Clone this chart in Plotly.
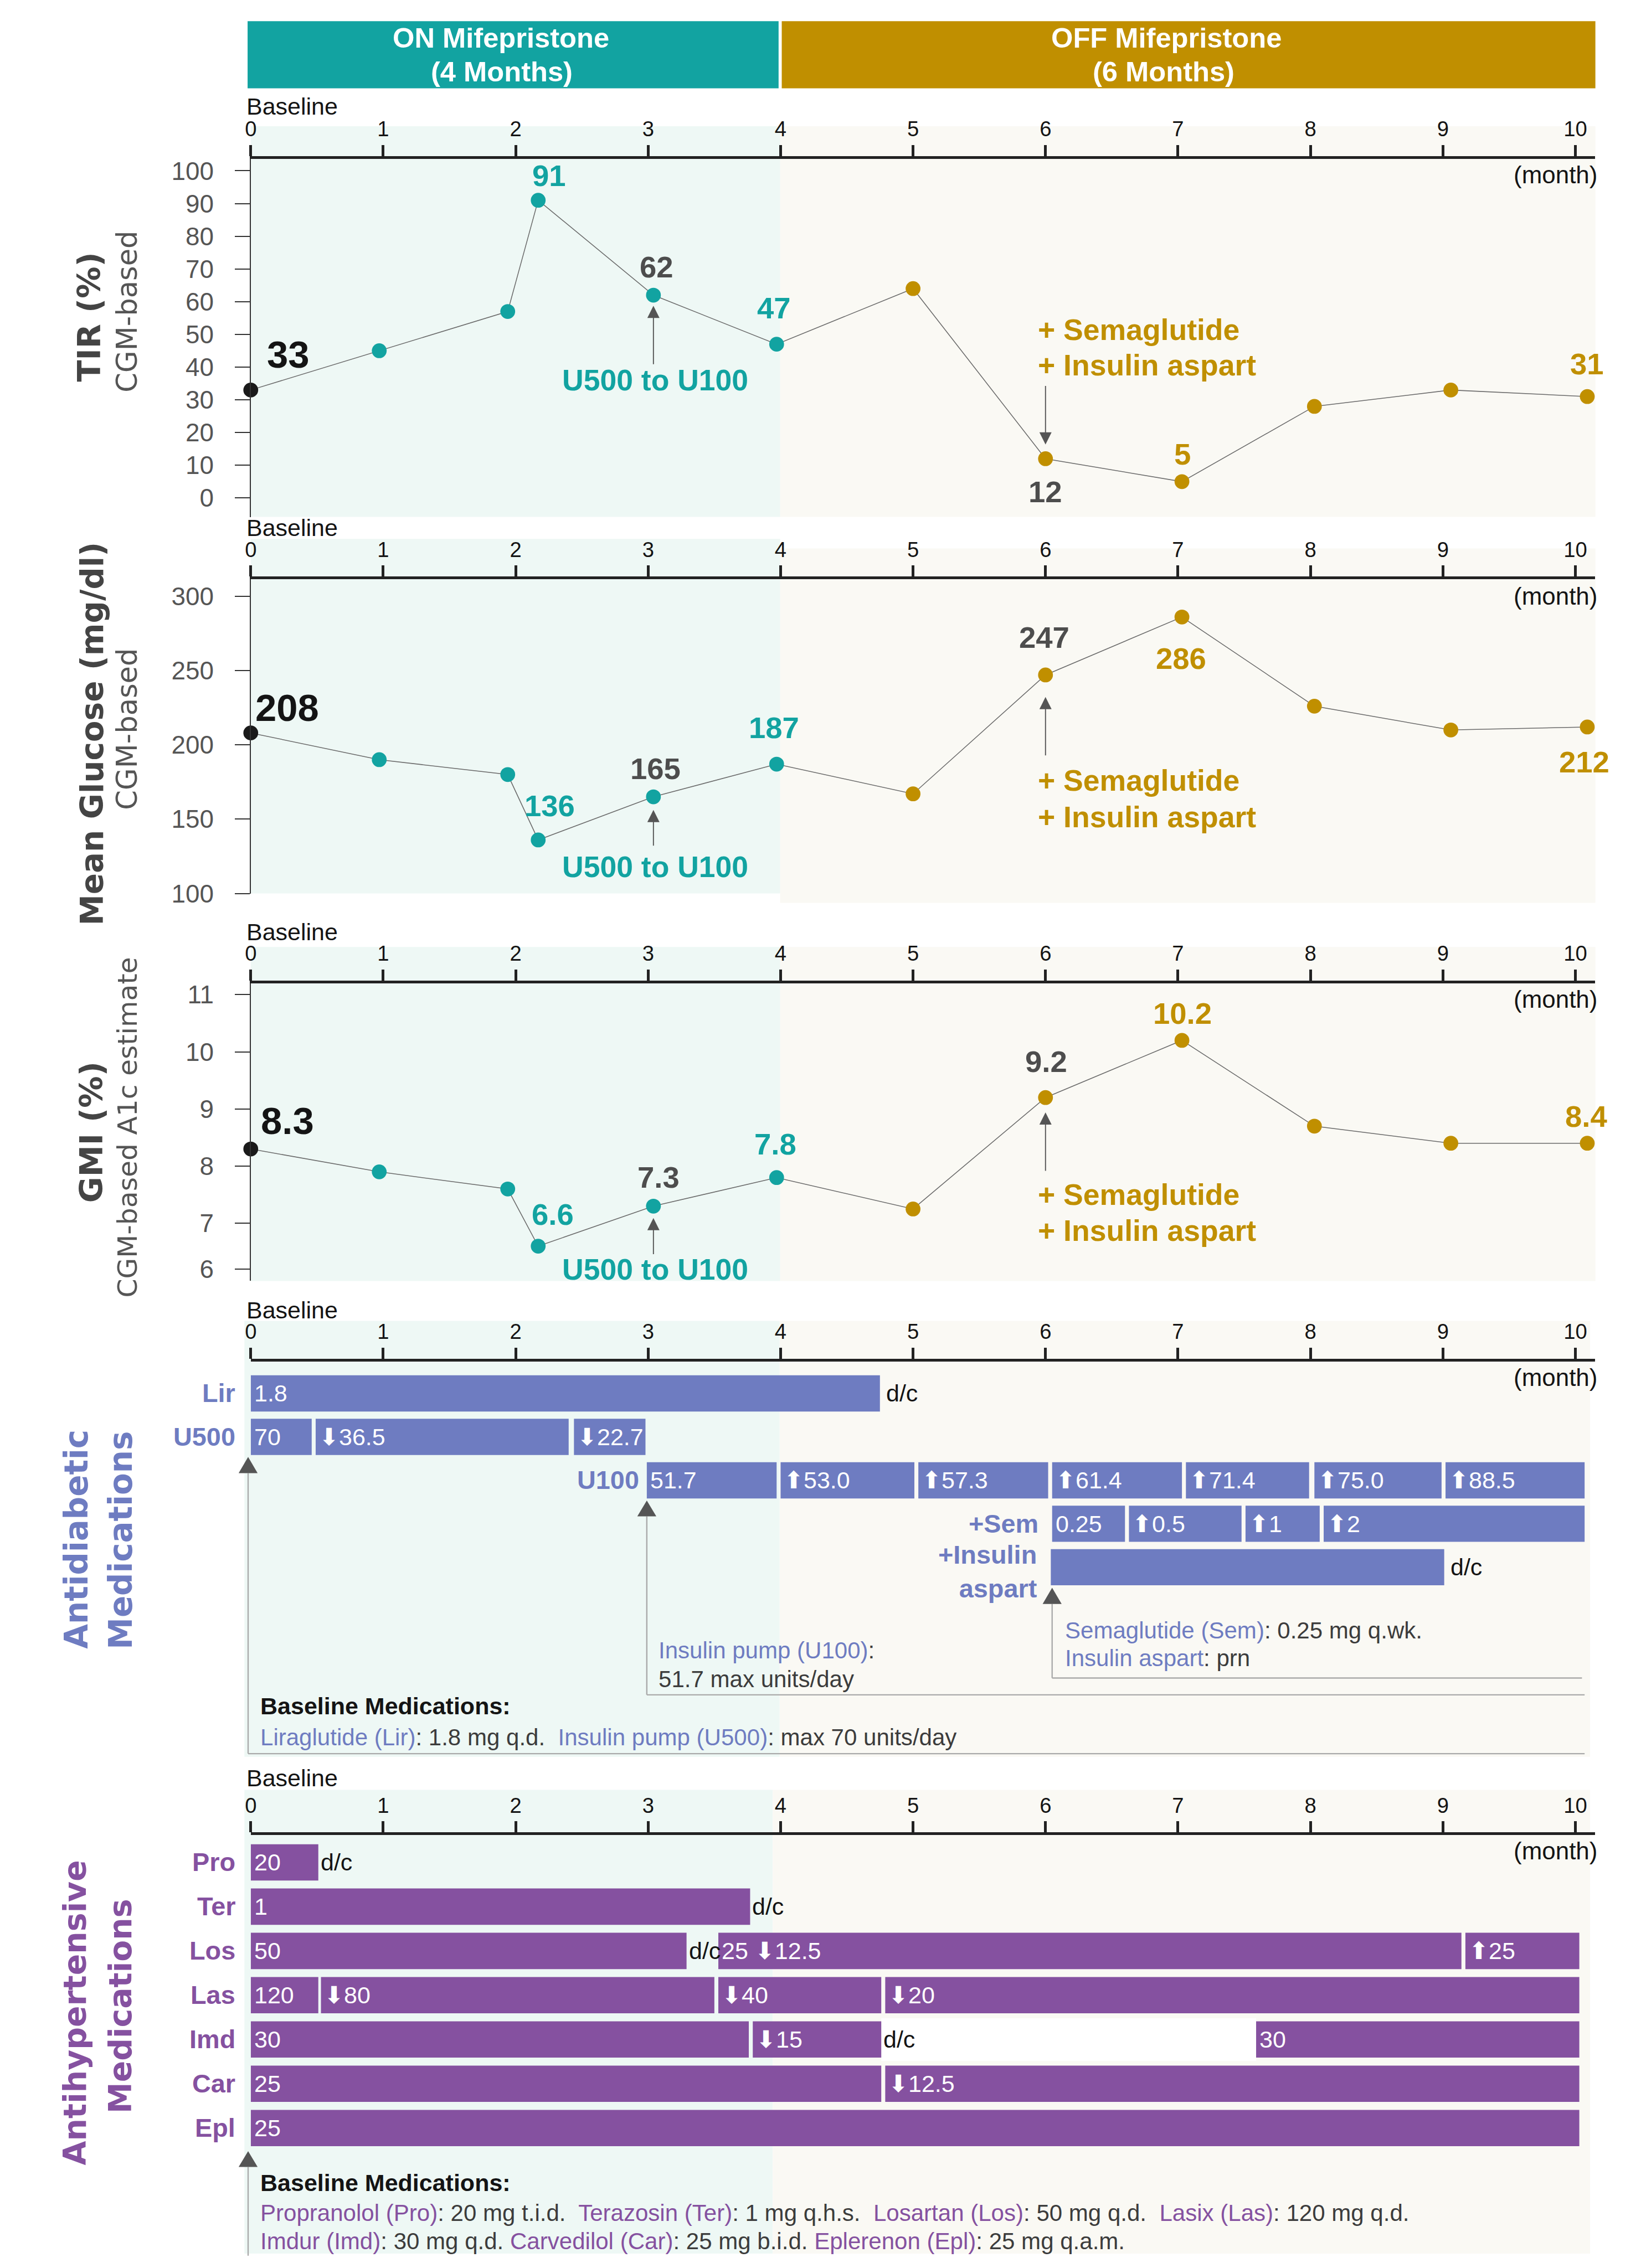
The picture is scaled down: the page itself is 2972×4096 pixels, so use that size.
import plotly.graph_objects as go

W, H = 2972, 4096
RW, RH = 3110, 4286
S = W / RW


def PX(x):
    return x / RW


def PY(y):
    return 1 - y / RH


def F(s):
    return round(s * S, 2)


FONT = "Liberation Sans, Arial, Helvetica, sans-serif"
TFONT = "DejaVu Sans, Verdana, sans-serif"

TEAL = "#12a3a1"
GOLD = "#c08f00"
BLUE = "#6e7cc1"
PURPLE = "#8551a0"
DARK = "#4d4d4d"
BLACK = "#141414"
TXT = "#3c3c3c"
TEAL_BG = "#eef8f5"
OFF_BG = "#faf9f4"

# ---------------- data ----------------
months = [0, 0.97, 1.94, 2.17, 3.04, 3.97, 5.0, 6.0, 7.03, 8.03, 9.06, 10.09]
phase = ["base", "on", "on", "on", "on", "on", "off", "off", "off", "off", "off", "off"]
tir = [33, 45, 57, 91, 62, 47, 64, 12, 5, 28, 33, 31]
glucose = [208, 190, 180, 136, 165, 187, 167, 247, 286, 226, 210, 212]
gmi = [8.3, 7.9, 7.6, 6.6, 7.3, 7.8, 7.25, 9.2, 10.2, 8.7, 8.4, 8.4]

month_ticks = list(range(11))
tir_ticks = list(range(0, 101, 10))
glucose_ticks = [100, 150, 200, 250, 300]
gmi_ticks = [6, 7, 8, 9, 10, 11]
gmi_tick_pos = [6.2, 7, 8, 9, 10, 11]

# antidiabetic medications: (start month, end month, dose label)
lir = [(0, 4.75, "1.8")]
u500 = [(0, 0.46, "70"), (0.49, 2.40, "↓36.5"), (2.44, 2.98, "↓22.7")]
u100 = [(2.99, 3.97, "51.7"), (4.0, 5.01, "↑53.0"), (5.04, 6.02, "↑57.3"),
        (6.05, 7.03, "↑61.4"), (7.06, 7.99, "↑71.4"), (8.03, 8.99, "↑75.0"),
        (9.02, 10.07, "↑88.5")]
sem = [(6.05, 6.6, "0.25"), (6.63, 7.48, "↑0.5"), (7.51, 8.07, "↑1"), (8.1, 10.07, "↑2")]
aspart = [(6.04, 9.01, "")]
antidiab_rows = [lir, u500, u100, sem, aspart]
antidiab_dc = [(0, 4.75), (4, 9.01)]

# antihypertensive medications
pro = [(0, 0.51, "20")]
ter = [(0, 3.77, "1")]
los = [(0, 3.29, "50"), (3.53, 9.14, "25 ↓12.5"), (9.17, 10.03, "↑25")]
las = [(0, 0.51, "120"), (0.53, 3.50, "↓80"), (3.53, 4.76, "↓40"), (4.79, 10.03, "↓20")]
imd = [(0, 3.76, "30"), (3.79, 4.76, "↓15"), (7.59, 10.03, "30")]
car = [(0, 4.76, "25"), (4.79, 10.03, "↓12.5")]
epl = [(0, 10.03, "25")]
antihyp_names = ["Pro", "Ter", "Los", "Las", "Imd", "Car", "Epl"]
antihyp_rows = [pro, ter, los, las, imd, car, epl]
antihyp_dc = [(0, 0.51), (1, 3.77), (2, 3.29), (4, 4.76)]
imd_gap = (4.76, 7.59)

phase_color = {"base": "#1a1a1a", "on": TEAL, "off": GOLD}

fig = go.Figure()


def axn(k):
    return ("x" if k == 1 else f"x{k}", "y" if k == 1 else f"y{k}")


# ---------------- panel geometry (reference px) ----------------
X0_REF, MONTH_REF = 464, 251.2   # where month 0 sits and width of one month (ref px)
pan = {1: (297, 979), 2: (1098, 1696), 3: (1867, 2434), 4: (2587, 3340), 5: (3489, 4286)}
XR = [0, 10.15]
xdom = [PX(X0_REF), PX(X0_REF + MONTH_REF * XR[1])]


def MX(m):
    """paper x of a month position (same mapping as the x axes)"""
    return xdom[0] + (xdom[1] - xdom[0]) * (m - XR[0]) / (XR[1] - XR[0])


layout = dict(
    width=W, height=H, margin=dict(l=0, r=0, t=0, b=0),
    paper_bgcolor="white", plot_bgcolor="rgba(0,0,0,0)",
    showlegend=False, barmode="overlay", font=dict(family=FONT),
)

yranges = {1: [-5.78, 103.69], 2: [100, 311.3], 3: [5.99, 11.2],
           4: [8.363, -0.737], 5: [8.837, -0.617]}

for k in range(1, 6):
    xa, ya = axn(k)
    top, bot = pan[k]
    xkey = "xaxis" if k == 1 else f"xaxis{k}"
    ykey = "yaxis" if k == 1 else f"yaxis{k}"
    layout[xkey] = dict(
        domain=xdom, range=XR, side="top", anchor=ya,
        tickvals=month_ticks, ticks="outside", ticklen=F(21), tickwidth=F(5),
        tickcolor="#222", showline=True, linewidth=F(5), linecolor="#222",
        tickfont=dict(family=FONT, size=F(40), color=BLACK),
        showgrid=False, zeroline=False, fixedrange=True,
    )
    yd = dict(domain=[PY(bot), PY(top)], anchor=xa, range=yranges[k],
              showgrid=False, zeroline=False, fixedrange=True)
    if k <= 3:
        yd.update(showline=True, linewidth=F(1.6), linecolor="#333",
                  ticks="outside", ticklen=F(28), tickwidth=F(1.6), tickcolor="#333",
                  tickfont=dict(family=FONT, size=F(48), color="#555"),
                  ticklabelstandoff=int(round(F(30))))
    else:
        yd.update(visible=False)
    layout[ykey] = yd

layout["yaxis"].update(tickvals=tir_ticks)
layout["yaxis2"].update(tickvals=glucose_ticks)
layout["yaxis3"].update(tickvals=gmi_tick_pos, ticktext=[str(t) for t in gmi_ticks])

shapes = []
ann = []

# ---------------- backgrounds ----------------
bgs = [  # (teal top, teal bottom, off top, off bottom, teal left, boundary, right)
    (235, 979, 235, 979, 464, 1468, 3014),
    (1021, 1696, 1039, 1714, 464, 1468, 3014),
    (1798, 2434, 1798, 2434, 464, 1468, 3014),
    (2510, 3340, 2510, 3340, 452, 1467, 3004),
    (3403, 4286, 3403, 4286, 452, 1454, 3004),
]
for tt, tb, ot, ob, xl, xm, xr in bgs:
    shapes.append(dict(type="rect", xref="paper", yref="paper", x0=PX(xl), x1=PX(xm),
                       y0=PY(tb), y1=PY(tt), fillcolor=TEAL_BG, line_width=0, layer="below"))
    shapes.append(dict(type="rect", xref="paper", yref="paper", x0=PX(xm), x1=PX(xr),
                       y0=PY(ob), y1=PY(ot), fillcolor=OFF_BG, line_width=0, layer="below"))

# ---------------- header ----------------
shapes.append(dict(type="rect", xref="paper", yref="paper", x0=PX(458), x1=PX(1465),
                   y0=PY(163), y1=PY(35), fillcolor=TEAL, line_width=0))
shapes.append(dict(type="rect", xref="paper", yref="paper", x0=PX(1471), x1=PX(3014),
                   y0=PY(163), y1=PY(35), fillcolor=GOLD, line_width=0))
for txt, xc, yc in [("ON Mifepristone", 938, 67), ("(4 Months)", 940, 131),
                    ("OFF Mifepristone", 2200, 67), ("(6 Months)", 2195, 131)]:
    ann.append(dict(text=f"<b>{txt}</b>", x=PX(xc), y=PY(yc), xref="paper", yref="paper",
                    showarrow=False, xanchor="center", yanchor="middle",
                    font=dict(family=FONT, size=F(53), color="white")))

# ---------------- axis extras ----------------
baseline_y = [197, 1000, 1769, 2489, 3380]
month_y = [327, 1130, 1897, 2617, 3519]
for by, my in zip(baseline_y, month_y):
    ann.append(dict(text="Baseline", x=PX(454), y=PY(by), xref="paper", yref="paper",
                    showarrow=False, xanchor="left", yanchor="middle",
                    font=dict(family=FONT, size=F(45), color=BLACK)))
    ann.append(dict(text="(month)", x=PX(3020), y=PY(my), xref="paper", yref="paper",
                    showarrow=False, xanchor="right", yanchor="middle",
                    font=dict(family=FONT, size=F(46), color=BLACK)))

# ---------------- y titles ----------------
titles = [
    ("<b>TIR (%)</b>", 158, 598, 60, "#444"),
    ("CGM-based", 230, 588, 53.5, "#555"),
    ("<b>Mean Glucose (mg/dl)</b>", 163, 1392, 59, "#444"),
    ("CGM-based", 230, 1383, 53.5, "#555"),
    ("<b>GMI (%)</b>", 162, 2151, 60, "#444"),
    ("CGM-based A1c estimate", 230, 2141, 51, "#555"),
    ("<b>Antidiabetic</b>", 133, 2926, 60.5, BLUE),
    ("<b>Medications</b>", 217, 2928, 60.5, BLUE),
    ("<b>Antihypertensive</b>", 130, 3827, 59.5, PURPLE),
    ("<b>Medications</b>", 217, 3815, 59.5, PURPLE),
]
for txt, xc, yc, sz, col in titles:
    ann.append(dict(text=txt, x=PX(xc), y=PY(yc), xref="paper", yref="paper",
                    showarrow=False, xanchor="center", yanchor="middle", textangle=-90,
                    font=dict(family=TFONT, size=F(sz), color=col)))

# ---------------- series panels ----------------
series = [(1, tir), (2, glucose), (3, gmi)]
for k, vals in series:
    xa, ya = axn(k)
    fig.add_trace(go.Scatter(x=months, y=vals, mode="lines", xaxis=xa, yaxis=ya,
                             line=dict(color="#6b6b6b", width=F(1.6)), hoverinfo="skip",
                             cliponaxis=False))
    fig.add_trace(go.Scatter(x=months, y=vals, mode="markers", xaxis=xa, yaxis=ya,
                             marker=dict(size=F(28), color=[phase_color[p] for p in phase],
                                         line=dict(width=0)),
                             hoverinfo="skip", cliponaxis=False))

labels = {
    1: [(0, 71, -67, BLACK, 72), (3, 21, -46, TEAL, 57), (4, 6, -53, DARK, 57),
        (5, -5, -68, TEAL, 57), (7, 0, 63, DARK, 57), (8, 1, -52, GOLD, 57),
        (11, 0, -61, GOLD, 57)],
    2: [(0, 69, -47, BLACK, 72), (3, 22, -64, TEAL, 57), (4, 4, -53, DARK, 57),
        (5, -5, -69, TEAL, 57), (7, -2, -71, DARK, 57), (8, -2, 79, GOLD, 57),
        (11, -6, 67, GOLD, 57)],
    3: [(0, 69, -53, BLACK, 72), (3, 27, -60, TEAL, 57), (4, 10, -54, DARK, 57),
        (5, -2, -63, TEAL, 57), (7, 1, -68, DARK, 57), (8, 1, -51, GOLD, 57),
        (11, -2, -51, GOLD, 57)],
}
for k, vals in series:
    xa, ya = axn(k)
    for i, dx, dy, col, sz in labels[k]:
        ann.append(dict(text=f"<b>{vals[i]:g}</b>", x=months[i], y=vals[i], xref=xa, yref=ya,
                        showarrow=False, xanchor="center", yanchor="middle",
                        xshift=F(dx), yshift=-F(dy),
                        font=dict(family=FONT, size=F(sz), color=col)))

# annotations for medication changes (tip y, tail y, label y's) in reference px
chg = {
    1: dict(u_tip=577, u_tail=689, u_lab=719, s_tip=841, s_tail=729, s_lab=(623, 690)),
    2: dict(u_tip=1537, u_tail=1606, u_lab=1645, s_tip=1322, s_tail=1434, s_lab=(1481, 1550)),
    3: dict(u_tip=2314, u_tail=2384, u_lab=2412, s_tip=2113, s_tail=2225, s_lab=(2269, 2338)),
}
for k, c in chg.items():
    xa, ya = axn(k)
    for tip, tail, xm in [(c["u_tip"], c["u_tail"], months[4]), (c["s_tip"], c["s_tail"], months[7])]:
        ann.append(dict(text="", x=xm, y=PY(tip), xref=xa, yref="paper", showarrow=True,
                        ax=0, ay=F(tail - tip), arrowhead=2, arrowsize=2.3, arrowwidth=F(2),
                        arrowcolor="#555", standoff=0))
    ann.append(dict(text="<b>U500 to U100</b>", x=months[4], y=PY(c["u_lab"]), xref=xa, yref="paper",
                    showarrow=False, xanchor="center", yanchor="middle", xshift=F(3),
                    font=dict(family=FONT, size=F(56), color=TEAL)))
    for txt, yy in zip(["+ Semaglutide", "+ Insulin aspart"], c["s_lab"]):
        ann.append(dict(text=f"<b>{txt}</b>", x=months[7], y=PY(yy), xref=xa, yref="paper",
                        showarrow=False, xanchor="left", yanchor="middle", xshift=-F(16),
                        font=dict(family=FONT, size=F(56), color=GOLD)))


# ---------------- medication bars ----------------
def fmt_dose(t):
    t = t.replace("↑", "<span style=\"font-family:'DejaVu Sans'\">⬆</span>")
    t = t.replace("↓", "<span style=\"font-family:'DejaVu Sans'\">⬇</span>")
    return t


def add_rows(k, rows, color, width):
    xa, ya = axn(k)
    for r, segs in enumerate(rows):
        fig.add_trace(go.Bar(orientation="h", y=[r] * len(segs), base=[s for s, e, _ in segs],
                             x=[e - s for s, e, _ in segs], width=width, xaxis=xa, yaxis=ya,
                             marker=dict(color=color, line=dict(width=0)), hoverinfo="skip"))
        for s, e, t in segs:
            if t:
                ann.append(dict(text=fmt_dose(t), x=s, y=r, xref=xa, yref=ya, showarrow=False,
                                xanchor="left", yanchor="middle", xshift=F(4),
                                font=dict(family=FONT, size=F(45), color="white")))


# white gap in Imd row
xa5, ya5 = axn(5)
fig.add_trace(go.Bar(orientation="h", y=[4], base=[imd_gap[0]], x=[imd_gap[1] - imd_gap[0]],
                     width=0.96, xaxis=xa5, yaxis=ya5,
                     marker=dict(color="white", line=dict(width=0)), hoverinfo="skip"))

add_rows(4, antidiab_rows, BLUE, 0.834)
add_rows(5, antihyp_rows, PURPLE, 0.82)

xa4, ya4 = axn(4)
for r, xm in antidiab_dc:
    ann.append(dict(text="d/c", x=xm, y=r, xref=xa4, yref=ya4, showarrow=False,
                    xanchor="left", yanchor="middle", xshift=F(10),
                    font=dict(family=FONT, size=F(45), color=BLACK)))
for r, xm in antihyp_dc:
    ann.append(dict(text="d/c", x=xm, y=r, xref=xa5, yref=ya5, showarrow=False,
                    xanchor="left", yanchor="middle", xshift=F(2),
                    font=dict(family=FONT, size=F(45), color=BLACK)))

# row labels
lab_font = dict(family=FONT, size=F(49), color=BLUE)
ann.append(dict(text="<b>Lir</b>", x=PX(437), y=0, xref="paper", yref=ya4, showarrow=False,
                xanchor="right", yanchor="middle", font=lab_font))
ann.append(dict(text="<b>U500</b>", x=PX(437), y=1, xref="paper", yref=ya4, showarrow=False,
                xanchor="right", yanchor="middle", font=lab_font))
ann.append(dict(text="<b>U100</b>", x=u100[0][0], y=2, xref=xa4, yref=ya4, showarrow=False,
                xanchor="right", yanchor="middle", xshift=-F(12), font=lab_font))
ann.append(dict(text="<b>+Sem</b>", x=sem[0][0], y=3, xref=xa4, yref=ya4, showarrow=False,
                xanchor="right", yanchor="middle", xshift=-F(24), font=lab_font))
ann.append(dict(text="<b>+Insulin<br>aspart</b>", x=aspart[0][0], y=4, xref=xa4, yref=ya4,
                showarrow=False, xanchor="right", yanchor="middle", align="right",
                xshift=-F(23), yshift=-F(9), font=lab_font))
for r, name in enumerate(antihyp_names):
    ann.append(dict(text=f"<b>{name}</b>", x=PX(437), y=r, xref="paper", yref=ya5,
                    showarrow=False, xanchor="right", yanchor="middle",
                    font=dict(family=FONT, size=F(49), color=PURPLE)))

# ---------------- boxes & pointers (paper refs so nothing is clipped) ----------------
GRAY = "#aaaaaa"
TRI = "#555555"
HW = 18 / RW      # half width of pointer triangles (paper)
EDGE = PX(459)    # baseline pointer line sits just left of month 0


def tri(xp, tip, base):
    return dict(type="path", xref="paper", yref="paper",
                path=f"M {xp - HW},{PY(base)} L {xp},{PY(tip)} L {xp + HW},{PY(base)} Z",
                fillcolor=TRI, line=dict(width=0))


def vline(xp, y0, y1):
    return dict(type="line", xref="paper", yref="paper", x0=xp, x1=xp, y0=PY(y0), y1=PY(y1),
                line=dict(color=GRAY, width=F(2.5)))


def hline(x0, x1, yy):
    return dict(type="line", xref="paper", yref="paper", x0=x0, x1=x1, y0=PY(yy), y1=PY(yy),
                line=dict(color=GRAY, width=F(2.5)))


right_end = MX(u100[-1][1])
xu = MX(u100[0][0])
xs = MX(sem[0][0])
shapes += [
    vline(EDGE, 2800, 3334), hline(EDGE, right_end, 3334), tri(EDGE, 2769, 2800),
    vline(xu, 2882, 3222), hline(xu, right_end, 3222), tri(xu, 2852, 2882),
    vline(xs, 3049, 3190), hline(xs, MX(10.05), 3190), tri(xs, 3018, 3049),
    vline(EDGE, 4121, 4290), tri(EDGE, 4091, 4121),
]


def cspan(t, col):
    return f'<span style="color:{col}">{t}</span>'


NB = "\u00a0 "
box_font = dict(family=FONT, size=F(44), color=TXT)


def note(text, xr, yr, font=box_font):
    ann.append(dict(text=text, x=PX(xr), y=PY(yr), xref="paper", yref="paper",
                    showarrow=False, xanchor="left", yanchor="middle", font=font))


note(cspan("Insulin pump (U100)", BLUE) + ":", 1235, 3137)
note("51.7 max units/day", 1235, 3192)
note(cspan("Semaglutide (Sem)", BLUE) + ": 0.25 mg q.wk.", 2006, 3099)
note(cspan("Insulin aspart", BLUE) + ": prn", 2006, 3152)
for yy in (3243, 4151):
    note("<b>Baseline Medications:</b>", 480, yy, dict(family=FONT, size=F(45), color=BLACK))
note(cspan("Liraglutide (Lir)", BLUE) + ": 1.8 mg q.d." + NB
     + cspan("Insulin pump (U500)", BLUE) + ": max 70 units/day", 480, 3303)
note(cspan("Propranolol (Pro)", PURPLE) + ": 20 mg t.i.d." + NB
     + cspan("Terazosin (Ter)", PURPLE) + ": 1 mg q.h.s." + NB
     + cspan("Losartan (Los)", PURPLE) + ": 50 mg q.d." + NB
     + cspan("Lasix (Las)", PURPLE) + ": 120 mg q.d.", 480, 4209)
note(cspan("Imdur (Imd)", PURPLE) + ": 30 mg q.d. "
     + cspan("Carvedilol (Car)", PURPLE) + ": 25 mg b.i.d. "
     + cspan("Eplerenon (Epl)", PURPLE) + ": 25 mg q.a.m.", 480, 4262)

layout["shapes"] = shapes
layout["annotations"] = ann
fig.update_layout(**layout)
fig.write_html("out.html", config={"displayModeBar": False},
               post_script="document.body.style.margin='0px';")
